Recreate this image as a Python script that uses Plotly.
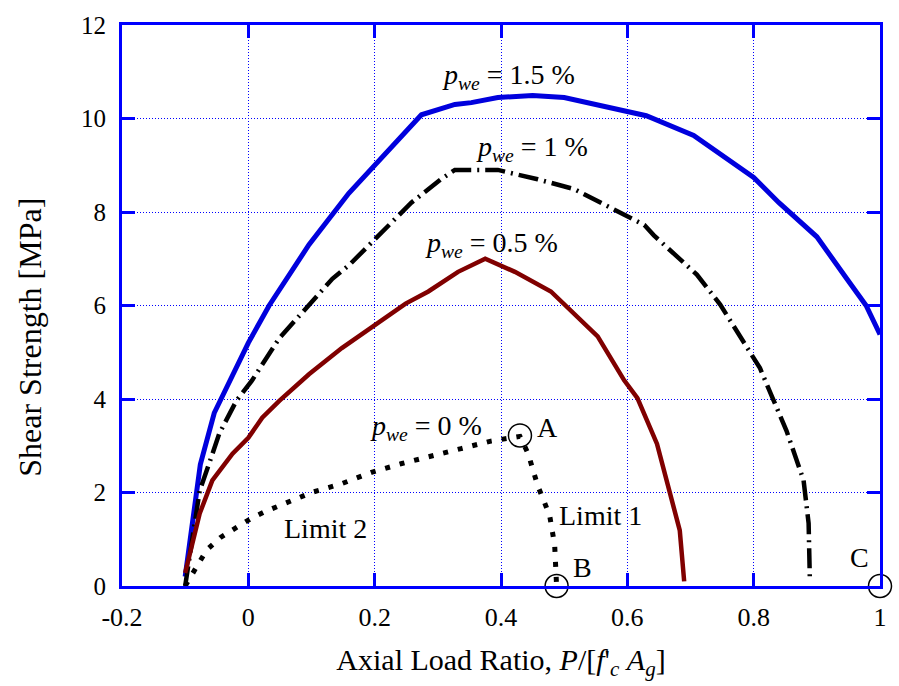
import plotly.graph_objects as go

# p_we = 1.5 %
x15 = [-0.1, -0.076, -0.054, -0.025, 0.0, 0.033, 0.096, 0.159, 0.2, 0.25, 0.274, 0.327, 0.353,
       0.395, 0.45, 0.5, 0.553, 0.63, 0.705, 0.765, 0.8, 0.84, 0.9, 0.946, 0.978, 1.0]
y15 = [0.2, 2.6, 3.7, 4.5, 5.2, 6.0, 7.3, 8.4, 9.0, 9.7, 10.08, 10.3, 10.34,
       10.45, 10.49, 10.45, 10.3, 10.06, 9.64, 9.06, 8.74, 8.2, 7.47, 6.6, 6.0, 5.38]

# p_we = 1 %
x10 = [-0.1, -0.077, -0.06, -0.046, -0.019, 0.005, 0.049, 0.085, 0.133, 0.16, 0.206, 0.258,
       0.305, 0.327, 0.395, 0.458, 0.516, 0.58, 0.627, 0.642, 0.71, 0.747, 0.78, 0.81, 0.83,
       0.852, 0.879, 0.887, 0.889]
y10 = [0.0, 2.04, 2.7, 3.26, 3.96, 4.38, 5.3, 5.83, 6.57, 6.87, 7.5, 8.2,
       8.7, 8.9, 8.9, 8.7, 8.49, 8.06, 7.72, 7.5, 6.66, 6.02, 5.3, 4.66, 4.02,
       3.32, 2.26, 1.34, 0.1]

# p_we = 0.5 %
x05 = [-0.1, -0.077, -0.057, -0.025, 0.0, 0.022, 0.049, 0.096, 0.148, 0.175, 0.211, 0.249,
       0.285, 0.332, 0.375, 0.422, 0.479, 0.553, 0.595, 0.616, 0.647, 0.666, 0.683, 0.69]
y05 = [0.28, 1.55, 2.26, 2.83, 3.17, 3.6, 3.96, 4.53, 5.09, 5.34, 5.66, 6.04,
       6.3, 6.72, 7.0, 6.72, 6.3, 5.34, 4.4, 4.02, 3.04, 2.04, 1.19, 0.1]

# p_we = 0 %
x00 = [-0.1, -0.08, -0.066, -0.044, -0.019, 0.005, 0.028, 0.054, 0.077, 0.1, 0.148, 0.195,
       0.243, 0.29, 0.337, 0.384, 0.43, 0.443, 0.458, 0.477, 0.485, 0.488]
y00 = [0.0, 0.45, 0.77, 1.04, 1.26, 1.45, 1.6, 1.74, 1.87, 2.0, 2.19, 2.43,
       2.62, 2.79, 2.94, 3.1, 3.2, 2.83, 2.15, 1.51, 0.87, 0.0]

# marked points A, B, C
pt_x = [0.43, 0.488, 1.0]
pt_y = [3.22, 0.0, 0.0]
pt_labels = ["A", "B", "C"]

xtick_vals = [-0.2, 0, 0.2, 0.4, 0.6, 0.8, 1]
xtick_text = ["-0.2", "0", "0.2", "0.4", "0.6", "0.8", "1"]
ytick_vals = [0, 2, 4, 6, 8, 10, 12]
ytick_text = ["0", "2", "4", "6", "8", "10", "12"]

FONT = "Liberation Serif"
BLUE = "#0000ff"

fig = go.Figure()
fig.add_trace(go.Scatter(x=x15, y=y15, mode="lines", name="p_we = 1.5 %",
                         line=dict(color="#0000dd", width=5)))
fig.add_trace(go.Scatter(x=x10, y=y10, mode="lines", name="p_we = 1 %",
                         line=dict(color="black", width=4.5, dash="20px,6px,2px,6px")))
fig.add_trace(go.Scatter(x=x05, y=y05, mode="lines", name="p_we = 0.5 %",
                         line=dict(color="#800000", width=4.5)))
fig.add_trace(go.Scatter(x=x00, y=y00, mode="lines", name="p_we = 0 %",
                         line=dict(color="black", width=5, dash="5px,10px")))
fig.add_trace(go.Scatter(x=pt_x, y=pt_y, mode="markers", name="points",
                         marker=dict(symbol="circle-open", size=23, color="black",
                                     line=dict(width=1.5, color="black")),
                         cliponaxis=False))

ann_font = dict(family=FONT, size=28, color="black")
notes = [
    (0.304, 10.9, "<i>p</i><sub><i>we</i></sub> = 1.5 %", "left"),
    (0.357, 9.35, "<i>p</i><sub><i>we</i></sub> = 1 %", "left"),
    (0.277, 7.3, "<i>p</i><sub><i>we</i></sub> = 0.5 %", "left"),
    (0.19, 3.4, "<i>p</i><sub><i>we</i></sub> = 0 %", "left"),
    (0.474, 3.38, pt_labels[0], "center"),
    (0.529, 0.40, pt_labels[1], "center"),
    (0.967, 0.62, pt_labels[2], "center"),
    (0.557, 1.51, "Limit 1", "center"),
    (0.122, 1.23, "Limit 2", "center"),
]
for x, y, t, xa in notes:
    fig.add_annotation(x=x, y=y, text=t, showarrow=False, xanchor=xa, yanchor="middle",
                       font=ann_font)

# y-axis title (placed as rotated annotation to match the reference position)
fig.add_annotation(xref="paper", yref="paper", x=-0.121, y=0.443,
                   text="Shear Strength [MPa]", textangle=-90, showarrow=False,
                   xanchor="center", yanchor="middle",
                   font=dict(family=FONT, size=32, color="black"))

axis_common = dict(
    showline=True, linecolor=BLUE, linewidth=3, mirror="ticks",
    ticks="inside", ticklen=13, tickwidth=2.5, tickcolor=BLUE,
    showgrid=True, gridcolor=BLUE, gridwidth=1, griddash="1px,2px",
    zeroline=False,
)
fig.update_xaxes(range=[-0.2, 1.0], tickvals=xtick_vals, ticktext=xtick_text,
                 tickfont=dict(family=FONT, size=26, color="black"),
                 title=dict(text="Axial Load Ratio, <i>P</i>/[<i>f</i>'<sub><i>c</i></sub> <i>A</i><sub><i>g</i></sub>]",
                            font=dict(family=FONT, size=30, color="black"), standoff=18),
                 ticklabelstandoff=6, **axis_common)
fig.update_yaxes(range=[0, 12], tickvals=ytick_vals, ticktext=ytick_text,
                 tickfont=dict(family=FONT, size=25, color="black"),
                 ticklabelstandoff=8, **axis_common)

fig.update_layout(
    width=899, height=686,
    margin=dict(l=122, r=15, t=22, b=100),
    paper_bgcolor="white", plot_bgcolor="white",
    showlegend=False,
    font=dict(family=FONT),
)
fig.write_html("out.html")
